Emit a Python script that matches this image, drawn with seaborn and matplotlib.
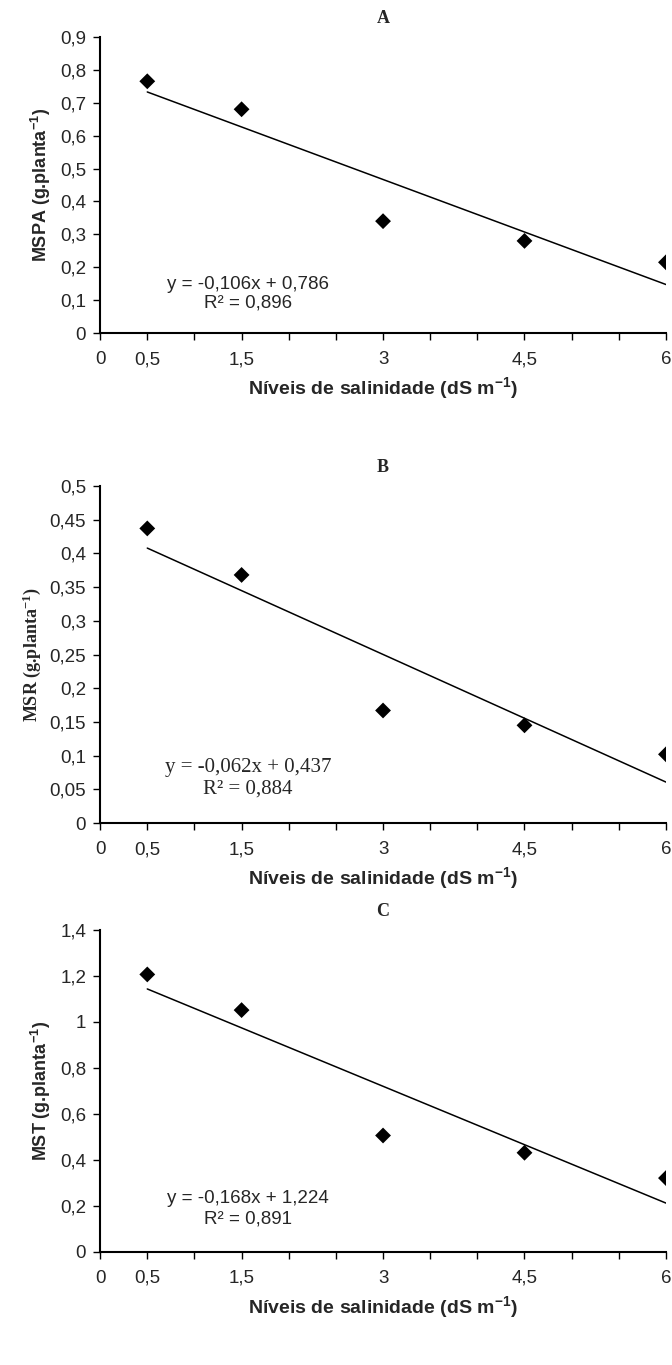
import numpy as np
import pandas as pd
import seaborn as sns
import matplotlib.pyplot as plt

# salinity levels (dS m-1)
salinity = [0.5, 1.5, 3.0, 4.5, 6.0]

# dry mass values
mspa = [0.765, 0.68, 0.34, 0.28, 0.215]
msr = [0.437, 0.368, 0.167, 0.145, 0.102]
mst = [1.205, 1.05, 0.505, 0.43, 0.32]

panel_letters = ['A', 'B', 'C']
y_labels = ['MSPA (g.planta$^{-1}$)', 'MSR (g.planta$^{-1}$)', 'MST (g.planta$^{-1}$)']
equations = ['y = -0,106x + 0,786', 'y = -0,062x + 0,437', 'y = -0,168x + 1,224']
r2_texts = ['R² = 0,896', 'R² = 0,884', 'R² = 0,891']
y_max = [0.9, 0.5, 1.4]
y_step = [0.1, 0.05, 0.2]
x_ticks = [0, 0.5, 1, 1.5, 2, 2.5, 3, 3.5, 4, 4.5, 5, 5.5, 6]
x_ticklabels = ['0', '0,5', '', '1,5', '', '', '3', '', '', '4,5', '', '', '6']

sns.set_style("white")
plt.rcParams['font.family'] = ['Liberation Sans', 'DejaVu Sans']
plt.rcParams['mathtext.default'] = 'regular'


def fmt(v):
    s = ('%.2f' % v).rstrip('0').rstrip('.')
    return s.replace('.', ',')


def draw_panel(ax, y, i, serif=False):
    df = pd.DataFrame({'x': salinity, 'y': y})
    sns.regplot(x='x', y='y', data=df, ax=ax, ci=None, truncate=True,
                marker='D', color='black',
                scatter_kws={'s': 65, 'edgecolor': 'none', 'alpha': 1},
                line_kws={'lw': 1.1})
    ax.set_xlim(0, 6)
    ax.set_ylim(0, y_max[i])
    ax.set_xticks(x_ticks)
    ax.set_xticklabels(x_ticklabels, fontsize=13.5)
    yt = np.arange(0, y_max[i] + y_step[i] / 2, y_step[i])
    ax.set_yticks(yt)
    ax.set_yticklabels([fmt(v) for v in yt], fontsize=13.5)
    ax.tick_params(axis='both', direction='out', length=5, width=1, color='black',
                   bottom=True, left=True)
    ax.tick_params(axis='x', pad=8)
    ax.tick_params(axis='y', pad=5)
    for s in ['top', 'right']:
        ax.spines[s].set_visible(False)
    for s in ['left', 'bottom']:
        ax.spines[s].set_color('black')
        ax.spines[s].set_linewidth(1.5)
    fam = ['Liberation Serif'] if serif else ['Liberation Sans']
    eq_size = 15 if serif else 13.5
    ax.set_xlabel('Níveis de salinidade (dS m$^{-1}$)', fontsize=14,
                  fontweight='bold', labelpad=5)
    ax.set_ylabel(y_labels[i], fontsize=13, fontweight='bold', family=fam, labelpad=5)
    ax.set_title(panel_letters[i], fontsize=13, fontweight='bold',
                 family='Liberation Serif', pad=10)
    ax.text(1.57, y_max[i] * 0.165, equations[i], ha='center', va='center',
            fontsize=eq_size, family=fam)
    ax.text(1.57, y_max[i] * 0.10, r2_texts[i], ha='center', va='center',
            fontsize=eq_size, family=fam)


fig = plt.figure(figsize=(6.72, 13.65), dpi=100)
ax_a = fig.add_axes([0.149, 0.756, 0.842, 0.217])
ax_b = fig.add_axes([0.149, 0.397, 0.842, 0.247])
ax_c = fig.add_axes([0.149, 0.083, 0.842, 0.236])

draw_panel(ax_a, mspa, 0)
draw_panel(ax_b, msr, 1, serif=True)
draw_panel(ax_c, mst, 2)

fig.savefig("out.png", dpi=100)
